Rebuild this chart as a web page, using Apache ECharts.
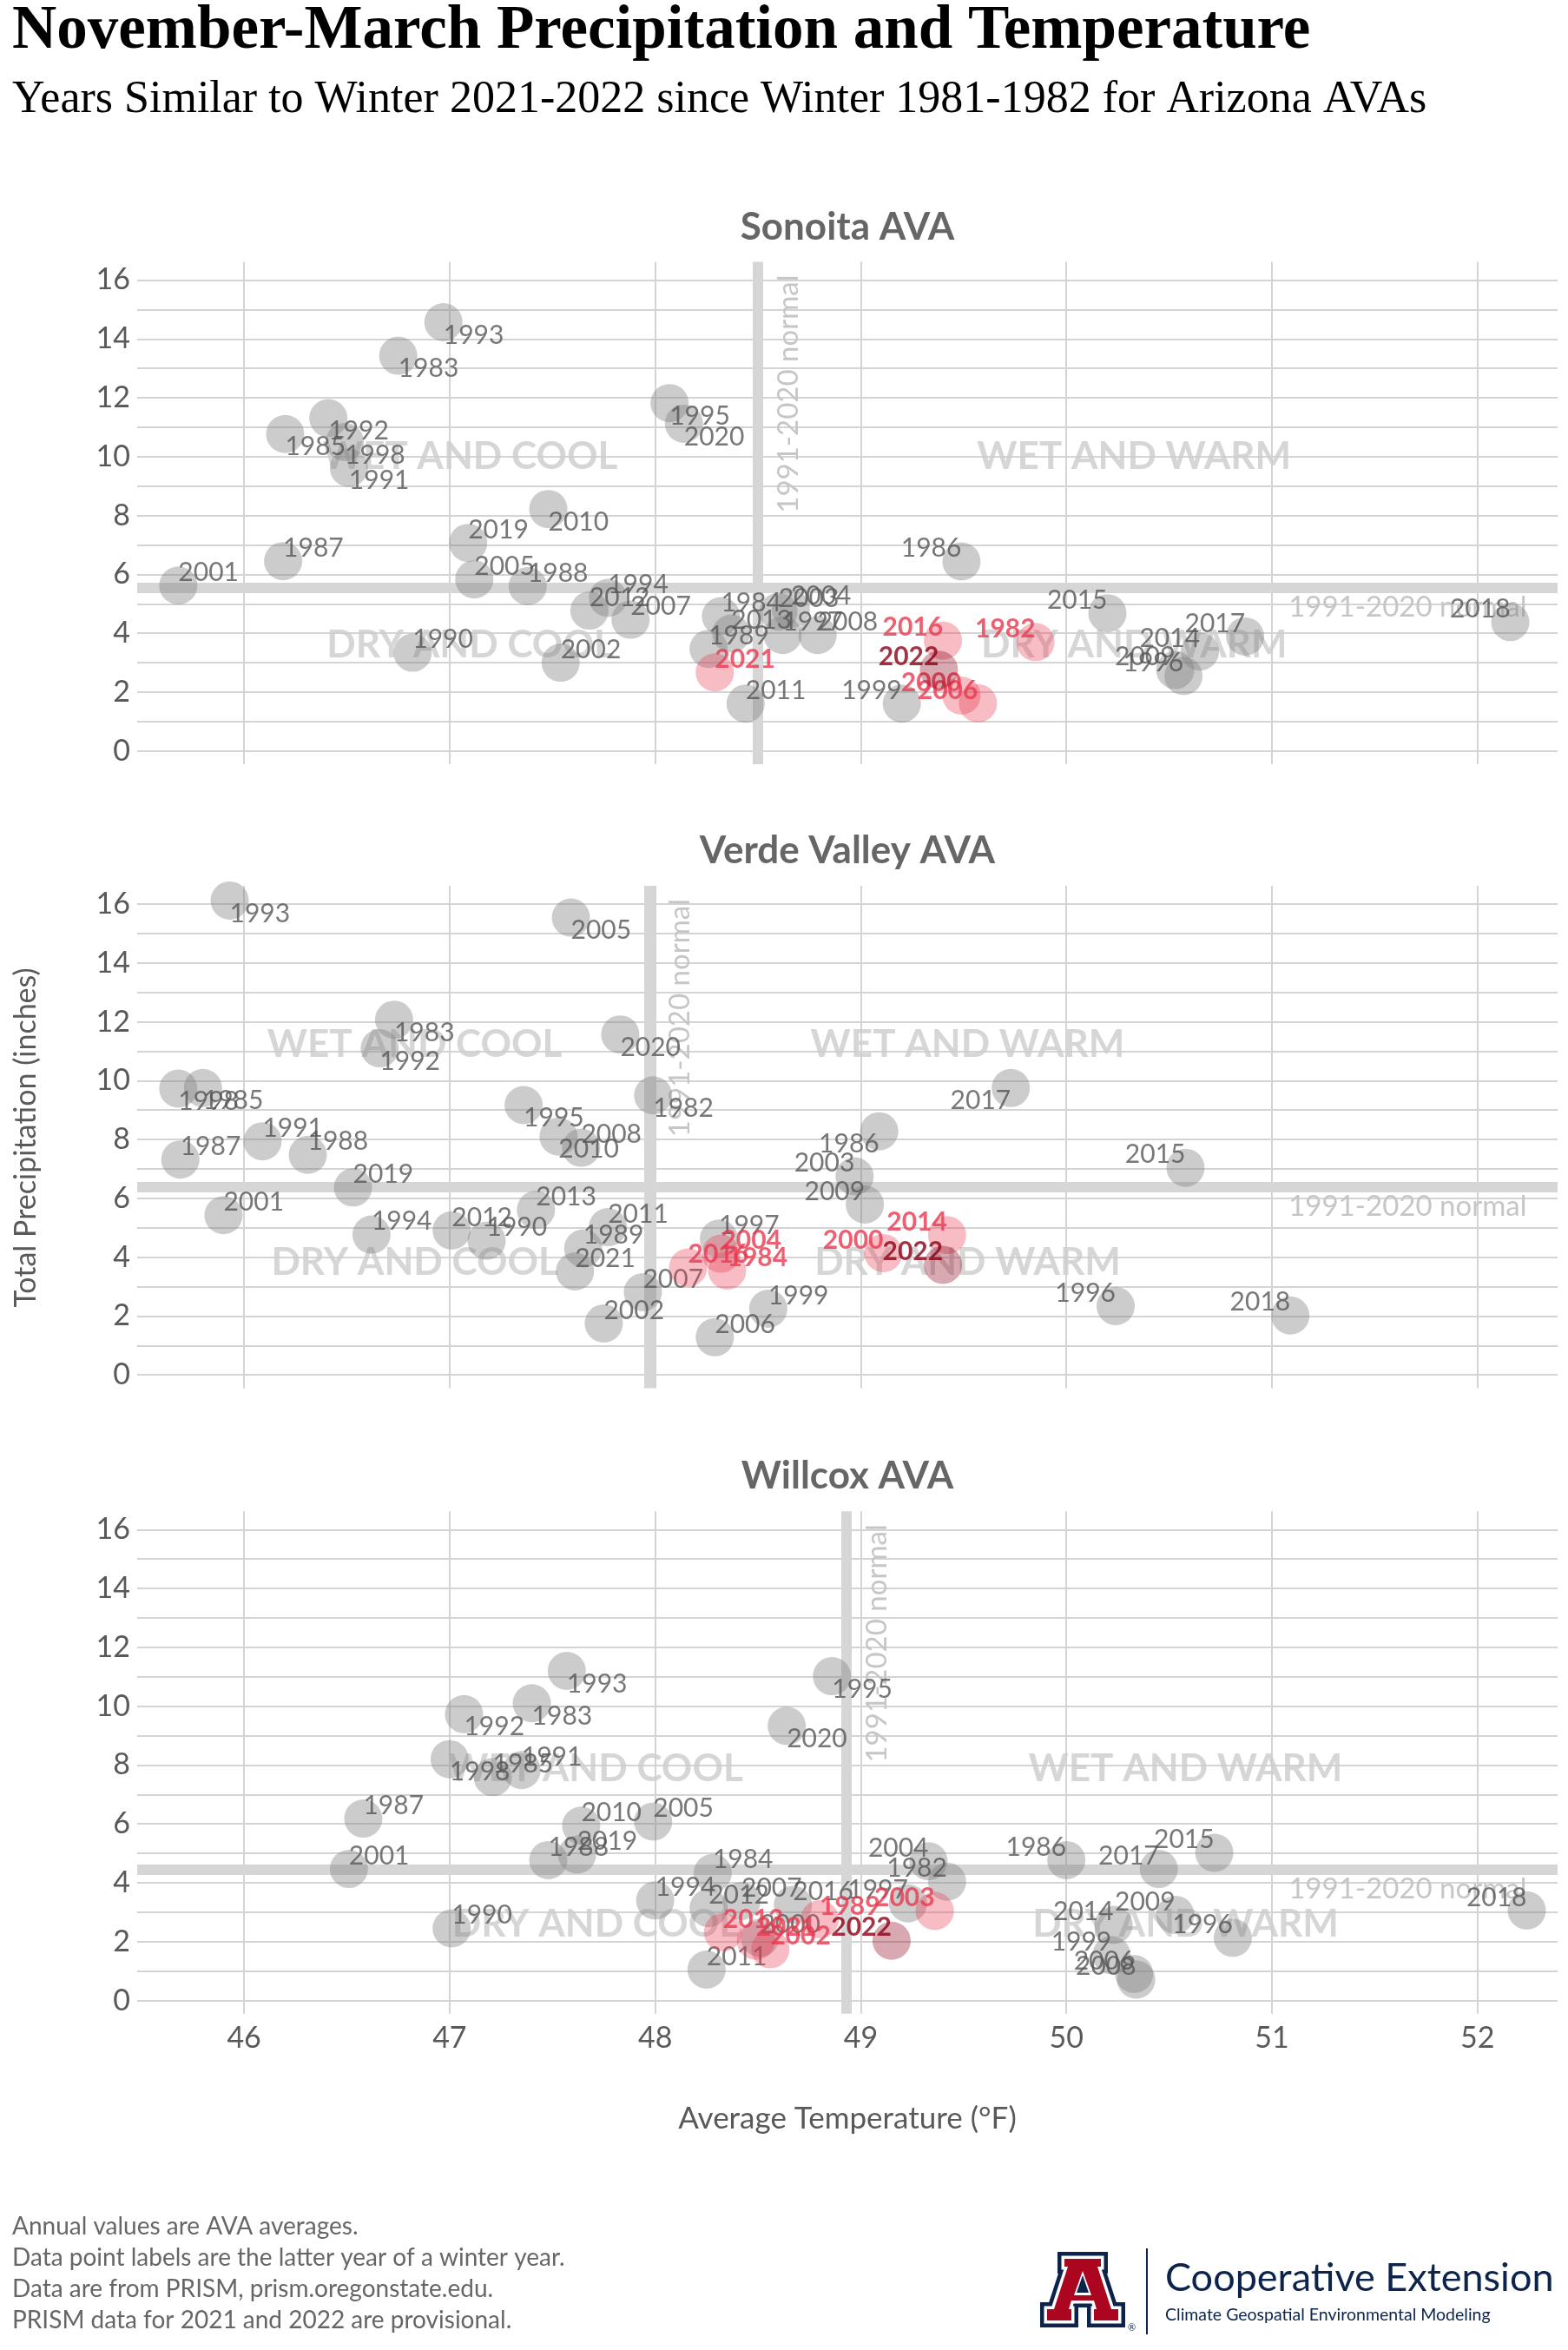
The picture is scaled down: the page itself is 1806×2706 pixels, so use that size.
<!DOCTYPE html>
<html>
<head>
<meta charset="utf-8">
<script src="https://cdn.jsdelivr.net/npm/echarts@6/dist/echarts.min.js"></script>
<style>html,body{margin:0;padding:0;background:#fff}#c{width:1806px;height:2706px}</style>
</head>
<body>
<div id="c"></div>
<script>
// ---------------- DATA ----------------
const years = [1982,1983,1984,1985,1986,1987,1988,1989,1990,1991,1992,1993,1994,1995,1996,1997,1998,1999,2000,2001,2002,2003,2004,2005,2006,2007,2008,2009,2010,2011,2012,2013,2014,2015,2016,2017,2018,2019,2020,2021,2022];

const sonoitaTemp   = [49.85,46.75,48.32,46.20,49.49,46.19,47.38,48.26,46.82,46.51,46.41,46.97,47.77,48.07,50.57,48.62,46.49,49.20,49.49,45.68,47.54,48.60,48.66,47.12,49.57,47.88,48.79,50.53,47.48,48.44,47.68,48.37,50.65,50.20,49.40,50.87,52.16,47.09,48.14,48.29,49.38];
const sonoitaPrecip = [3.70,13.43,4.58,10.77,6.44,6.45,5.60,3.47,3.34,9.62,11.31,14.57,5.20,11.82,2.55,3.94,10.50,1.61,1.88,5.62,3.00,4.73,4.82,5.83,1.62,4.46,3.94,2.75,8.22,1.61,4.77,3.99,3.38,4.68,3.75,3.89,4.38,7.07,11.12,2.67,2.76];
const sonoitaSimilarYears = [1982,2000,2006,2016,2021];

const verdeTemp   = [47.99,46.73,48.35,45.80,49.09,45.69,46.31,47.65,47.18,46.09,46.66,45.93,46.62,47.36,50.24,48.31,45.68,48.55,49.11,45.90,47.75,48.97,48.32,47.59,48.29,47.94,47.64,49.02,47.53,47.77,47.01,47.42,49.42,50.58,48.16,49.73,51.09,46.53,47.83,47.61,49.40];
const verdePrecip = [9.50,12.07,3.55,9.75,8.28,7.32,7.48,4.30,4.56,7.94,11.10,16.12,4.77,9.17,2.34,4.63,9.73,2.25,4.14,5.43,1.75,6.75,4.12,15.54,1.28,2.81,7.72,5.79,8.10,5.02,4.91,5.61,4.75,7.04,3.65,9.75,2.02,6.37,11.57,3.52,3.74];
const verdeSimilarYears = [1984,2000,2004,2014,2016];

const willcoxTemp   = [49.42,47.40,48.28,47.21,50.00,46.58,47.48,48.80,47.01,47.35,47.07,47.57,48.00,48.86,50.81,49.23,47.00,50.22,48.51,46.51,48.56,49.36,49.33,47.99,50.33,48.42,50.34,50.53,47.64,48.25,48.26,48.33,50.23,50.72,48.67,50.45,52.24,47.62,48.64,48.49,49.15];
const willcoxPrecip = [4.04,10.10,4.33,7.59,4.77,6.18,4.77,2.76,2.45,7.83,9.73,11.20,3.40,11.02,2.13,3.30,8.20,1.54,2.13,4.47,1.74,3.04,4.73,6.08,0.90,3.38,0.71,2.91,5.94,1.05,3.14,2.32,2.57,5.02,3.25,4.47,3.06,4.96,9.33,2.03,2.03];
const willcoxSimilarYears = [1989,2002,2003,2013,2021];

const currentYear = 2022;
const panelNames = ['Sonoita AVA','Verde Valley AVA','Willcox AVA'];
const normalTemp   = [48.50, 47.97, 48.93];
const normalPrecip = [5.54, 6.38, 4.45];
const normalText = '1991-2020 normal';

const quadCoolTemp  = [47.10, 46.83, 47.71];
const quadWarmTemp  = [50.33, 49.52, 50.58];
const quadWetPrecip = [10.00, 11.24, 7.86];
const quadDryPrecip = [3.60, 3.83, 2.60];

const xTicks = [46,47,48,49,50,51,52];
const yGridTicks = [0,1,2,3,4,5,6,7,8,9,10,11,12,13,14,15,16];
const yLabelTicks = [0,2,4,6,8,10,12,14,16];
const xRange = [45.48, 52.39];
const yRange = [-0.45, 16.62];

const footerLines = [
  'Annual values are AVA averages.',
  'Data point labels are the latter year of a winter year.',
  'Data are from PRISM, prism.oregonstate.edu.',
  'PRISM data for 2021 and 2022 are provisional.'
];

// ---------------- CHART ----------------
const SANS = 'Lato, "Noto Sans", sans-serif';
const chart = echarts.init(document.getElementById('c'), null, {renderer: 'canvas', width: 1806, height: 2706});

const panels = [
  {temp: sonoitaTemp, precip: sonoitaPrecip, similar: sonoitaSimilarYears},
  {temp: verdeTemp, precip: verdePrecip, similar: verdeSimilarYears},
  {temp: willcoxTemp, precip: willcoxPrecip, similar: willcoxSimilarYears}
];
const gridTops = [301.5, 1020, 1740.3];
const gridH = 578.5, gridL = 158, gridW = 1636;
const xCenter = (xRange[0] + xRange[1]) / 2;
const yCenter = (yRange[0] + yRange[1]) / 2;

const GRAY_LABEL = '#555555';
const RED = '#E8384F';
const DARK = '#8B0015';

function pointItem(year, t, p) {
  return {
    name: String(year),
    value: [t, p],
    label: {
      align: t < xCenter ? 'left' : 'right',
      verticalAlign: p > yCenter ? 'top' : 'bottom'
    }
  };
}

const grids = [], xAxes = [], yAxes = [], series = [];
panels.forEach((pn, i) => {
  grids.push({left: gridL, top: gridTops[i], width: gridW, height: gridH, containLabel: false});
  xAxes.push({
    type: 'value', gridIndex: i, min: xRange[0], max: xRange[1],
    axisLine: {show: false},
    axisTick: {show: false, customValues: xTicks},
    splitLine: {show: true, lineStyle: {color: '#d4d4d4', width: 2}},
    axisLabel: {show: i === 2, customValues: xTicks, fontSize: 34, color: '#595959', fontFamily: SANS, margin: 11}
  });
  yAxes.push({
    type: 'value', gridIndex: i, min: yRange[0], max: yRange[1],
    axisLine: {show: false},
    axisTick: {show: false, customValues: yGridTicks},
    splitLine: {show: true, lineStyle: {color: '#d4d4d4', width: 2}},
    axisLabel: {show: true, customValues: yLabelTicks, fontSize: 34, color: '#595959', fontFamily: SANS, margin: 8}
  });

  // quadrant labels + normal lines
  series.push({
    type: 'scatter', xAxisIndex: i, yAxisIndex: i, z: 1, silent: true,
    symbolSize: 1, itemStyle: {color: 'rgba(0,0,0,0)'},
    data: [
      {name: 'WET AND COOL', value: [quadCoolTemp[i], quadWetPrecip[i]]},
      {name: 'WET AND WARM', value: [quadWarmTemp[i], quadWetPrecip[i]]},
      {name: 'DRY AND COOL', value: [quadCoolTemp[i], quadDryPrecip[i]]},
      {name: 'DRY AND WARM', value: [quadWarmTemp[i], quadDryPrecip[i]]}
    ],
    label: {show: true, position: 'inside', formatter: '{b}', fontFamily: SANS, fontWeight: 'bold', fontSize: 44, color: '#cccccc'},
    markLine: {
      silent: true, symbol: 'none', animation: false, z: 1,
      lineStyle: {color: '#d6d6d6', width: 12, type: 'solid'},
      label: {show: false},
      data: [{xAxis: normalTemp[i]}, {yAxis: normalPrecip[i]}]
    }
  });

  const grayData = [], redData = [], curData = [];
  years.forEach((y, k) => {
    const item = pointItem(y, pn.temp[k], pn.precip[k]);
    if (y === currentYear) curData.push(item);
    else if (pn.similar.indexOf(y) >= 0) redData.push(item);
    else grayData.push(item);
  });
  const baseLabel = {show: true, position: ['50%', '50%'], formatter: '{b}', fontFamily: SANS, fontSize: 30};
  series.push({
    type: 'scatter', xAxisIndex: i, yAxisIndex: i, z: 10, symbolSize: 44, silent: true,
    itemStyle: {color: 'rgba(128,128,128,0.5)'},
    label: Object.assign({}, baseLabel, {color: GRAY_LABEL}),
    data: grayData
  });
  series.push({
    type: 'scatter', xAxisIndex: i, yAxisIndex: i, z: 11, symbolSize: 44, silent: true,
    itemStyle: {color: 'rgba(232,56,79,0.42)'},
    label: Object.assign({}, baseLabel, {color: RED, fontWeight: 'bold'}),
    data: redData
  });
  series.push({
    type: 'scatter', xAxisIndex: i, yAxisIndex: i, z: 12, symbolSize: 44, silent: true,
    itemStyle: {color: 'rgba(139,0,21,0.42)'},
    label: Object.assign({}, baseLabel, {color: DARK, fontWeight: 'bold'}),
    data: curData
  });
});

chart.setOption({
  animation: false,
  backgroundColor: '#ffffff',
  grid: grids, xAxis: xAxes, yAxis: yAxes, series: series
});

// ---------------- ANNOTATIONS ----------------
const allTemp = sonoitaTemp.concat(verdeTemp, willcoxTemp);
const allPrecip = sonoitaPrecip.concat(verdePrecip, willcoxPrecip);
const maxTemp = Math.max.apply(null, allTemp);
const maxPrecip = Math.max.apply(null, allPrecip);

const g = [];
g.push({type: 'text', x: 14, y: 37, style: {text: 'November-March Precipitation and Temperature', fontFamily: '"Liberation Serif", serif', fontWeight: 'bold', fontSize: 71, fill: '#000', verticalAlign: 'middle'}});
g.push({type: 'text', x: 14, y: 115, style: {text: 'Years Similar to Winter 2021-2022 since Winter 1981-1982 for Arizona AVAs', fontFamily: '"Liberation Serif", serif', fontSize: 52, fill: '#000', verticalAlign: 'middle'}});

panels.forEach((pn, i) => {
  g.push({type: 'text', x: gridL + gridW / 2, y: gridTops[i] - 40, style: {text: panelNames[i], fontFamily: SANS, fontWeight: 'bold', fontSize: 44, fill: '#666666', align: 'center', verticalAlign: 'middle'}});
  const pv = chart.convertToPixel({gridIndex: i}, [normalTemp[i], maxPrecip]);
  g.push({type: 'text', x: pv[0] + 19, y: pv[1] - 2, rotation: Math.PI / 2,
    style: {text: normalText, fontFamily: SANS, fontSize: 33, fill: '#c6c6c6', align: 'right', verticalAlign: 'top'}});
  const ph = chart.convertToPixel({gridIndex: i}, [maxTemp, normalPrecip[i]]);
  g.push({type: 'text', x: ph[0], y: ph[1] + 6,
    style: {text: normalText, fontFamily: SANS, fontSize: 33, fill: '#c6c6c6', align: 'right', verticalAlign: 'top'}});
});

g.push({type: 'text', x: 30, y: 1310, rotation: Math.PI / 2, style: {text: 'Total Precipitation (inches)', fontFamily: SANS, fontSize: 34, fill: '#595959', align: 'center', verticalAlign: 'middle'}});
g.push({type: 'text', x: gridL + gridW / 2, y: 2440, style: {text: 'Average Temperature (°F)', fontFamily: SANS, fontSize: 35, fill: '#595959', align: 'center', verticalAlign: 'middle'}});

footerLines.forEach((t, k) => {
  g.push({type: 'text', x: 14, y: 2564 + k * 36, style: {text: t, fontFamily: SANS, fontSize: 28, fill: '#666666', verticalAlign: 'middle'}});
});

// logo
const NAVY = '#0C234B', UARED = '#AB0520';
const aShape = [[28,8],[70,8],[70,17],[66,17],[82,66],[90,66],[90,79],[62,79],[62,66],[65,66],[62,56],[36,56],[33,66],[36,66],[36,79],[8,79],[8,66],[16,66],[32,17],[28,17]];
const hole1 = [[49,22],[59,50],[39,50]];
const hole2 = [[49,27],[56,47],[42,47]];
g.push({type: 'group', x: 1198, y: 2593, children: [
  {type: 'polygon', shape: {points: aShape}, style: {fill: NAVY, stroke: NAVY, lineWidth: 16, lineJoin: 'miter'}},
  {type: 'polygon', shape: {points: aShape}, style: {fill: '#fff', stroke: '#fff', lineWidth: 7, lineJoin: 'miter'}},
  {type: 'polygon', shape: {points: aShape}, style: {fill: UARED}},
  {type: 'polygon', shape: {points: hole1}, style: {fill: '#fff'}},
  {type: 'polygon', shape: {points: hole2}, style: {fill: NAVY}},
  {type: 'text', x: 101, y: 82, style: {text: '®', fontSize: 11, fill: NAVY, fontFamily: SANS}}
]});
g.push({type: 'line', shape: {x1: 1321, y1: 2589, x2: 1321, y2: 2688}, style: {stroke: NAVY, lineWidth: 2}});
g.push({type: 'text', x: 1342, y: 2623, style: {text: 'Cooperative Extension', fontFamily: SANS, fontSize: 45, fill: NAVY, verticalAlign: 'middle'}});
g.push({type: 'text', x: 1342, y: 2666, style: {text: 'Climate Geospatial Environmental Modeling', fontFamily: SANS, fontSize: 19.5, fill: NAVY, verticalAlign: 'middle'}});

chart.setOption({graphic: g});
</script>
</body>
</html>
